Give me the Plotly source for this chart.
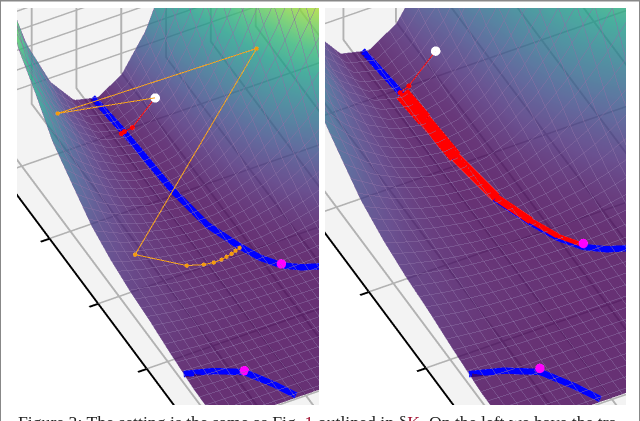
import numpy as np
import plotly.graph_objects as go

x_grid = [-1.46, -1.1, -0.75, -0.4, 0.0, 0.4, 0.8, 1.2, 1.6, 2.0, 2.5, 3.03]
y_grid = [0.235, 0.5, 0.75, 1.0, 1.25, 1.5, 1.75, 2.0, 2.25, 2.5, 2.75, 3.0, 3.25, 3.5]
z_by_x = [
    [1.99, 1.06, 0.47, 0.13, 0.06, 0.25, 0.70, 1.41, 2.39, 3.63, 4, 4, 4, 4],
    [1.41, 0.78, 0.36, 0.12, 0.05, 0.18, 0.50, 1.02, 1.75, 2.67, 3.79, 4, 4, 4],
    [1.13, 0.64, 0.31, 0.12, 0.05, 0.13, 0.36, 0.75, 1.30, 2.00, 2.86, 3.88, 4, 4],
    [0.81, 0.47, 0.24, 0.10, 0.05, 0.10, 0.28, 0.58, 1.00, 1.54, 2.21, 3.00, 3.91, 4],
    [0.60, 0.35, 0.19, 0.09, 0.05, 0.085, 0.21, 0.42, 0.73, 1.12, 1.61, 2.18, 2.84, 3.60],
    [0.40, 0.25, 0.15, 0.08, 0.05, 0.06, 0.13, 0.24, 0.41, 0.64, 0.91, 1.24, 1.61, 2.05],
    [0.29, 0.19, 0.13, 0.08, 0.055, 0.05, 0.08, 0.13, 0.22, 0.34, 0.49, 0.67, 0.89, 1.13],
    [0.22, 0.16, 0.11, 0.08, 0.06, 0.05, 0.05, 0.07, 0.11, 0.16, 0.23, 0.31, 0.41, 0.52],
    [0.18, 0.13, 0.10, 0.08, 0.07, 0.06, 0.05, 0.05, 0.05, 0.06, 0.08, 0.11, 0.15, 0.20],
    [0.12, 0.09, 0.07, 0.06, 0.05, 0.05, 0.05, 0.05, 0.05, 0.05, 0.06, 0.08, 0.10, 0.13],
    [0.06, 0.05, 0.05, 0.05, 0.05, 0.05, 0.05, 0.05, 0.05, 0.05, 0.05, 0.06, 0.07, 0.09],
    [0.05, 0.05, 0.05, 0.05, 0.05, 0.05, 0.05, 0.05, 0.05, 0.05, 0.05, 0.05, 0.05, 0.06],
]

upper_x = [-1.463, -0.9375, 0.0, 0.57, 0.938, 1.193, 1.382, 1.491, 1.559]
upper_y = [1.195, 1.239, 1.282, 1.355, 1.479, 1.589, 1.722, 1.875, 2.038]
lower_x = [2.294, 2.384, 2.527, 2.795, 3.03]
lower_y = [0.235, 0.501, 0.751, 0.917, 1.037]
curve_z = 0.08

magenta_x = [1.382, 2.527]
magenta_y = [1.722, 0.751]

white_x, white_y, white_z = [-0.697], [1.46], [0.6]

orange_x = [-0.697, -0.728, -0.295, 0.843, 1.052, 1.093, 1.107, 1.099, 1.084, 1.069, 1.049, 1.03]
orange_y = [1.46, 0.455, 2.317, 0.466, 0.90, 1.057, 1.154, 1.241, 1.301, 1.361, 1.412, 1.464]
orange_z = [0.6, 0.8, 1.2, 0.3, 0.15, 0.13, 0.127, 0.12, 0.12, 0.12, 0.12, 0.12]

red_left_x = [-0.697, -0.861, -0.846, -0.835]
red_left_y = [1.46, 1.304, 1.213, 1.176]
red_left_z = [0.6, 0.15, 0.15, 0.15]

red_right_x = [-0.697, -0.861, -0.85]
red_right_y = [1.46, 1.304, 1.22]
red_right_z = [0.6, 0.15, 0.12]

band_x = [-0.85, -0.5, 0.0, 0.57, 0.938, 1.193, 1.382]
band_y = [1.24, 1.26, 1.282, 1.355, 1.479, 1.589, 1.722]
band_width = [30, 26, 20, 15, 11, 9]

xr, yr, zr = [-1.72, 3.6], [0, 3.6], [0, 4]
x_ticks = [-1, 0, 1, 2, 3]
y_ticks = [0.219, 0.688, 1.157, 1.626, 2.095, 2.564, 3.033, 3.502]
z_ticks = [0.25, 0.5, 0.75, 1.0, 1.25, 1.5, 1.75, 2.0, 2.25, 2.5, 2.75, 3.0, 3.25, 3.5, 3.75]

K_L = 0.54
K_R = K_L * 1.17
DIST = 8.0
direction = np.array([0.652, -0.332, 0.682])
direction = direction / np.linalg.norm(direction)
box_center = np.array([(xr[0] + xr[1]) / 2, (yr[0] + yr[1]) / 2, (zr[0] + zr[1]) / 2])


def camera(target, k):
    c = (np.array(target) - box_center) * k
    e = c + direction * DIST
    return dict(
        center=dict(x=c[0], y=c[1], z=c[2]),
        eye=dict(x=e[0], y=e[1], z=e[2]),
        up=dict(x=0, y=0, z=1),
        projection=dict(type="orthographic"),
    )


def axis(rng, ticks, line=False):
    return dict(
        range=rng, tickvals=ticks, showticklabels=False, title=dict(text=""),
        showbackground=True, backgroundcolor="#f3f3f3",
        showgrid=True, gridcolor="#b2b2b2", gridwidth=4, zeroline=False,
        showline=line, linecolor="black", linewidth=4,
        ticks="outside" if line else "", ticklen=10, tickcolor="black", tickwidth=4,
        showspikes=False, autorange=False,
    )


def scene(dom_x, target, k):
    return dict(
        domain=dict(x=dom_x, y=[(421 - 405) / 421, (421 - 8) / 421]),
        xaxis=axis(xr, x_ticks, True), yaxis=axis(yr, y_ticks), zaxis=axis(zr, z_ticks),
        aspectmode="manual",
        aspectratio=dict(x=(xr[1] - xr[0]) * k, y=(yr[1] - yr[0]) * k, z=(zr[1] - zr[0]) * k),
        camera=camera(target, k),
        bgcolor="white",
        dragmode=False,
    )


z_matrix = np.array(z_by_x).T.tolist()


def line3d(sc, xs, ys, zs, color, width, markers=None, mcolor=None):
    zs = zs if isinstance(zs, list) else [zs] * len(xs)
    return go.Scatter3d(
        x=xs, y=ys, z=zs, scene=sc, mode="lines+markers" if markers else "lines",
        line=dict(color=color, width=width),
        marker=dict(size=markers or 1, color=mcolor or color, line=dict(width=0)),
        showlegend=False, hoverinfo="skip",
    )


def dots(sc, xs, ys, zs, color, size):
    zs = zs if isinstance(zs, list) else [zs] * len(xs)
    return go.Scatter3d(
        x=xs, y=ys, z=zs, scene=sc, mode="markers",
        marker=dict(size=size, color=color, line=dict(width=0)),
        showlegend=False, hoverinfo="skip",
    )


def surface(sc):
    return go.Surface(
        x=x_grid, y=y_grid, z=z_matrix, scene=sc, colorscale="Viridis", cmin=0.05, cmax=2.0,
        showscale=False, opacity=0.8, hoverinfo="skip",
        lighting=dict(ambient=1, diffuse=0, specular=0, roughness=1, fresnel=0),
        contours=dict(
            x=dict(show=True, start=-1.46, end=3.03, size=0.12, color="rgb(140,112,165)", width=1),
            y=dict(show=True, start=0.235, end=3.5, size=0.1, color="rgb(140,112,165)", width=1),
        ),
    )


traces = [
    surface("scene"),
    line3d("scene", upper_x, upper_y, curve_z, "#0000ff", 13),
    line3d("scene", lower_x, lower_y, curve_z, "#0000ff", 13),
    line3d("scene", orange_x, orange_y, orange_z, "#f59a0c", 2, markers=2.5),
    line3d("scene", red_left_x, red_left_y, red_left_z, "#ff0000", 2, markers=3),
    dots("scene", magenta_x, magenta_y, 0.1, "#ff00ff", 5.5),
    dots("scene", white_x, white_y, white_z, "#ffffff", 5.5),
    surface("scene2"),
    line3d("scene2", upper_x, upper_y, curve_z, "#0000ff", 13),
    line3d("scene2", lower_x, lower_y, curve_z, "#0000ff", 13),
    line3d("scene2", red_right_x, red_right_y, red_right_z, "#ff0000", 2, markers=3),
]
for i, w in enumerate(band_width):
    traces.append(line3d("scene2", band_x[i:i + 2], band_y[i:i + 2], 0.1, "#ff0000", w))
traces += [
    dots("scene2", magenta_x, magenta_y, 0.12, "#ff00ff", 5.5),
    dots("scene2", white_x, white_y, white_z, "#ffffff", 5.5),
]

fig = go.Figure(traces)
fig.update_layout(
    width=640, height=421, margin=dict(l=0, r=0, t=0, b=0),
    paper_bgcolor="white", showlegend=False,
    scene=scene([17 / 640, 319 / 640], [0.109, 1.184, 0], K_L),
    scene2=scene([325 / 640, 626 / 640], [0.4945, 1.2105, 0], K_R),
    annotations=[dict(
        text='Figure 3: The setting is the same as Fig. <span style="color:#a01030">1</span> outlined in §<span style="color:#a01030">K</span>. On the left we have the tra',
        xref="paper", yref="paper", x=16 / 640, y=(421 - 422) / 421, xanchor="left", yanchor="middle",
        showarrow=False, font=dict(family="Liberation Serif", size=17.7, color="#222222"),
    )],
    shapes=[
        dict(type="line", xref="paper", yref="paper", x0=0, x1=1, y0=1, y1=1, line=dict(color="#888888", width=3)),
        dict(type="line", xref="paper", yref="paper", x0=0, x1=0, y0=0, y1=1, line=dict(color="#888888", width=2)),
        dict(type="line", xref="paper", yref="paper", x0=1, x1=1, y0=0, y1=1, line=dict(color="#888888", width=2)),
    ],
)
fig.write_html(
    "out.html",
    config={"displayModeBar": False},
    post_script="document.body.style.margin='0';document.body.style.overflow='hidden';",
)
